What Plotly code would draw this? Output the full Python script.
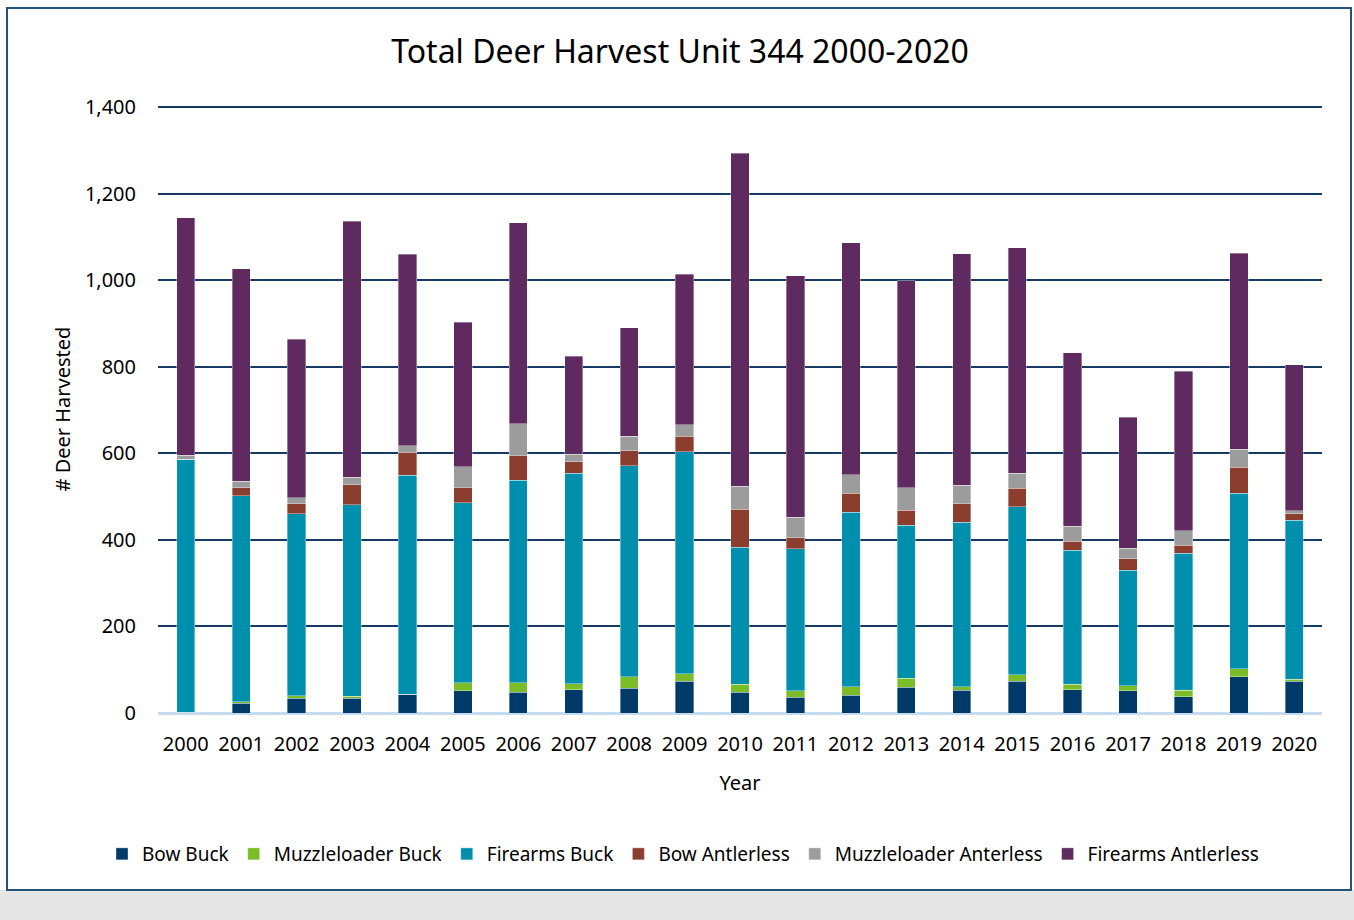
import plotly.graph_objects as go

years = [str(y) for y in range(2000, 2021)]
bow_buck = [2, 23, 34, 34, 43, 52, 48, 54, 57, 73, 48, 36, 41, 60, 53, 73, 54, 52, 38, 84, 73]
muzzle_buck = [0, 3, 6, 5, 0, 18, 22, 14, 27, 18, 18, 15, 20, 20, 8, 15, 13, 11, 15, 18, 5]
firearms_buck = [584, 476, 420, 442, 506, 416, 468, 486, 487, 513, 317, 328, 403, 354, 380, 389, 309, 267, 316, 406, 368]
bow_antlerless = [0, 19, 24, 46, 54, 35, 56, 27, 35, 36, 88, 26, 44, 34, 42, 42, 21, 27, 19, 60, 14]
muzzle_antlerless = [10, 15, 14, 18, 15, 48, 75, 17, 33, 26, 53, 47, 42, 52, 43, 35, 34, 24, 33, 42, 7]
firearms_antlerless = [549, 491, 366, 591, 442, 334, 464, 226, 251, 348, 769, 558, 537, 479, 535, 521, 402, 303, 369, 453, 338]

series = [
    ("Bow Buck", bow_buck, "#003a68"),
    ("Muzzleloader Buck", muzzle_buck, "#7bbd28"),
    ("Firearms Buck", firearms_buck, "#008fac"),
    ("Bow Antlerless", bow_antlerless, "#8c3e2e"),
    ("Muzzleloader Anterless", muzzle_antlerless, "#9c9c9c"),
    ("Firearms Antlerless", firearms_antlerless, "#5f2a5f"),
]

FONT = "Noto Sans"
fig = go.Figure()
for name, vals, col in series:
    fig.add_trace(go.Bar(
        x=years, y=vals, name=name,
        marker=dict(color=col, line=dict(color="rgba(255,255,255,0.6)", width=0.6)),
    ))

W, H = 1354, 920
L, R, T, B = 158, 1322, 105, 713
pw, ph = R - L, B - T

def px(x):
    return (x - L) / pw

def py(y):
    return (B - y) / ph

shapes = [
    dict(type="rect", xref="paper", yref="paper", x0=px(-5), x1=px(W + 5), y0=py(890), y1=py(925),
         fillcolor="#e6e6e6", line=dict(width=0), layer="below"),
    dict(type="rect", xref="paper", yref="paper", x0=px(7), x1=px(1351), y0=py(890), y1=py(8),
         fillcolor="rgba(0,0,0,0)", line=dict(color="#24527a", width=2), layer="below"),
]

fig.update_layout(
    width=W, height=H,
    margin=dict(l=L, r=W - R, t=T, b=H - B, autoexpand=False),
    paper_bgcolor="white", plot_bgcolor="white",
    barmode="stack", bargap=0.67,
    font=dict(family=FONT, color="black", size=20),
    title=dict(text="Total Deer Harvest Unit 344 2000-2020", x=680 / W, xanchor="center",
               y=1 - 52 / H, yanchor="middle", yref="container",
               font=dict(family=FONT, size=32, color="black")),
    xaxis=dict(
        type="category", showgrid=False, showline=True, linecolor="#c5dcf0", linewidth=2,
        ticks="outside", ticklen=12, tickcolor="rgba(0,0,0,0)",
        tickfont=dict(family=FONT, size=20, color="black"),
        title=dict(text="Year", font=dict(family=FONT, size=20, color="black"), standoff=20),
    ),
    yaxis=dict(
        range=[0, 1405], tickvals=[0, 200, 400, 600, 800, 1000, 1200, 1400], tickformat=",d",
        showgrid=True, gridcolor="#173a63", gridwidth=2,
        zeroline=True, zerolinecolor="#c5dcf0", zerolinewidth=2,
        ticks="outside", ticklen=17, tickcolor="rgba(0,0,0,0)",
        tickfont=dict(family=FONT, size=20, color="black"),
        title=dict(text="# Deer Harvested", font=dict(family=FONT, size=20, color="black"), standoff=8),
    ),
    legend=dict(orientation="h", x=px(683), xanchor="center", y=py(854), yanchor="middle",
                traceorder="normal", font=dict(family=FONT, size=19, color="black"),
                itemwidth=30, bgcolor="rgba(0,0,0,0)"),
    shapes=shapes,
)

fig.write_html("out.html", config={"displayModeBar": False},
               post_script="document.body.style.margin='0';")
